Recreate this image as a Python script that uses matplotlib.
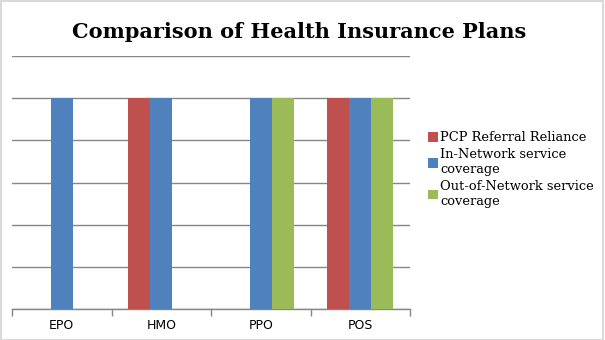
import matplotlib.pyplot as plt
import numpy as np

# Plan types and which features each one offers (1 = yes, 0 = no)
plans = ["EPO", "HMO", "PPO", "POS"]
pcp_referral = [0, 1, 0, 1]
in_network = [1, 1, 1, 1]
out_of_network = [0, 0, 1, 1]

series = [
    ("PCP Referral Reliance", pcp_referral, "#C0504D"),
    ("In-Network service\ncoverage", in_network, "#4F81BD"),
    ("Out-of-Network service\ncoverage", out_of_network, "#9BBB59"),
]

fig = plt.figure(figsize=(6.05, 3.4), dpi=100)
ax = fig.add_axes([12 / 605, 31 / 340, 398 / 605, 253 / 340])

x = np.arange(len(plans))
width = 0.22
for i, (label, vals, color) in enumerate(series):
    ax.bar(x + (i - 1) * width, vals, width, color=color, label=label, zorder=3)

ax.set_xlim(-0.5, len(plans) - 0.5)
ax.set_ylim(0, 1.2)
ax.set_yticks(np.arange(0, 1.21, 0.2))
ax.set_yticklabels([])
ax.tick_params(axis="y", length=0)
ax.grid(axis="y", color="#868686", linewidth=1, zorder=0)

# category labels in the middle, tick marks on the boundaries
ax.set_xticks(x)
ax.set_xticklabels(plans, fontsize=9, family="DejaVu Sans")
ax.tick_params(axis="x", which="major", length=0, pad=7)
ax.set_xticks(np.arange(-0.5, len(plans), 1), minor=True)
ax.tick_params(axis="x", which="minor", length=5, color="#868686", width=1)

for side in ["top", "right", "left"]:
    ax.spines[side].set_visible(False)
ax.spines["bottom"].set_color("#868686")
ax.spines["bottom"].set_linewidth(1)

fig.text(0.495, 0.905, "Comparison of Health Insurance Plans",
         ha="center", va="center", fontsize=15, fontweight="bold", family="DejaVu Serif")

ax.legend(loc="center left", bbox_to_anchor=(1.033, 0.55), frameon=False,
          prop={"family": "DejaVu Serif", "size": 9.4},
          handlelength=0.75, handleheight=0.75, handletextpad=0.15,
          labelspacing=0.3, borderaxespad=0)

# light frame around the whole figure
fig.patches.append(plt.Rectangle((0.001, 0.001), 0.996, 0.997, transform=fig.transFigure,
                                 fill=False, edgecolor="#d9d9d9", linewidth=1.5))

fig.savefig("out.png", dpi=100)
